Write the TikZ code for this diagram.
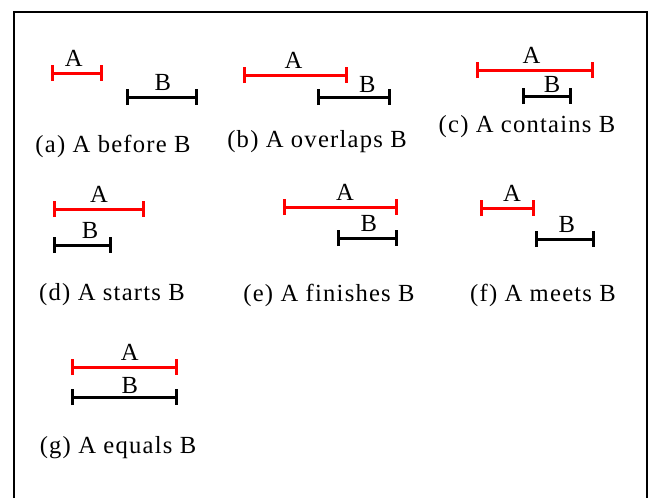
\documentclass[tikz,border=0pt]{standalone}
\usepackage{fontspec}
\setmainfont{Liberation Serif}[LetterSpace=5]
\usetikzlibrary{arrows.meta}
\definecolor{ivred}{HTML}{FF0000}

\tikzset{
  ivA/.style={ivred,line width=0.06cm,{Bar[width=0.32cm]}-{Bar[width=0.32cm]}},
  ivB/.style={black,line width=0.06cm,{Bar[width=0.32cm]}-{Bar[width=0.32cm]}},
  tag/.style={above,black,inner sep=3pt,font=\fontsize{14}{16}\selectfont},
  capt/.style={font=\fontsize{14}{16}\selectfont}
}

\begin{document}
\begin{tikzpicture}[x=0.02cm,y=-0.02cm]
  \useasboundingbox (0,0) rectangle (652,498);
  \draw[line width=0.04cm] (14,498) -- (14,12) -- (647,12) -- (647,498);

  % (a) before
  \coordinate (aA1) at (51,73);   \coordinate (aA2) at (103,73);
  \coordinate (aB1) at (126,97);  \coordinate (aB2) at (198,97);
  \draw[ivA] (aA1) -- node[tag,pos=0.44] {A} (aA2);
  \draw[ivB] (aB1) -- node[tag,pos=0.51] {B} (aB2);
  \node[capt] (capa) at (113,146) {(a) A before B};

  % (b) overlaps
  \coordinate (bA1) at (243,75);  \coordinate (bA2) at (348,75);
  \coordinate (bB1) at (317,97);  \coordinate (bB2) at (391,97);
  \draw[ivA] (bA1) -- node[tag,pos=0.48] {A} (bA2);
  \draw[ivB] (bB1) -- node[tag,pos=0.68,inner sep=1.5pt] {B} (bB2);
  \node[capt] (capb) at (317,142) {(b) A overlaps B};

  % (c) contains
  \coordinate (cA1) at (476,70);  \coordinate (cA2) at (594,70);
  \coordinate (cB1) at (522,96);  \coordinate (cB2) at (572,96);
  \draw[ivA] (cA1) -- node[tag,pos=0.47] {A} (cA2);
  \draw[ivB] (cB1) -- node[tag,pos=0.6,inner sep=1pt] {B} (cB2);
  \node[capt] (capc) at (527,127) {(c) A contains B};

  % (d) starts
  \coordinate (dA1) at (53,209);  \coordinate (dA2) at (145,209);
  \coordinate (dB1) at (53,245);  \coordinate (dB2) at (112,245);
  \draw[ivA] (dA1) -- node[tag] {A} (dA2);
  \draw[ivB] (dB1) -- node[tag,pos=0.63] {B} (dB2);
  \node[capt] (capd) at (112,295) {(d) A starts B};

  % (e) finishes
  \coordinate (eA1) at (283,207); \coordinate (eA2) at (398,207);
  \coordinate (eB1) at (337,238); \coordinate (eB2) at (398,238);
  \draw[ivA] (eA1) -- node[tag,pos=0.54] {A} (eA2);
  \draw[ivB] (eB1) -- node[tag,pos=0.52] {B} (eB2);
  \node[capt] (cape) at (329,295) {(e) A finishes B};

  % (f) meets
  \coordinate (fA1) at (480,208); \coordinate (fA2) at (535,208);
  \coordinate (fB1) at (535,239); \coordinate (fB2) at (595,239);
  \draw[ivA] (fA1) -- node[tag,pos=0.58] {A} (fA2);
  \draw[ivB] (fB1) -- node[tag,pos=0.53] {B} (fB2);
  \node[capt] (capf) at (543,295) {(f) A meets B};

  % (g) equals
  \coordinate (gA1) at (71,367);  \coordinate (gA2) at (178,367);
  \coordinate (gB1) at (71,397);  \coordinate (gB2) at (178,397);
  \draw[ivA] (gA1) -- node[tag,pos=0.55] {A} (gA2);
  \draw[ivB] (gB1) -- node[tag,pos=0.55,inner sep=1pt] {B} (gB2);
  \node[capt] (capg) at (118,448) {(g) A equals B};
\end{tikzpicture}
\end{document}
